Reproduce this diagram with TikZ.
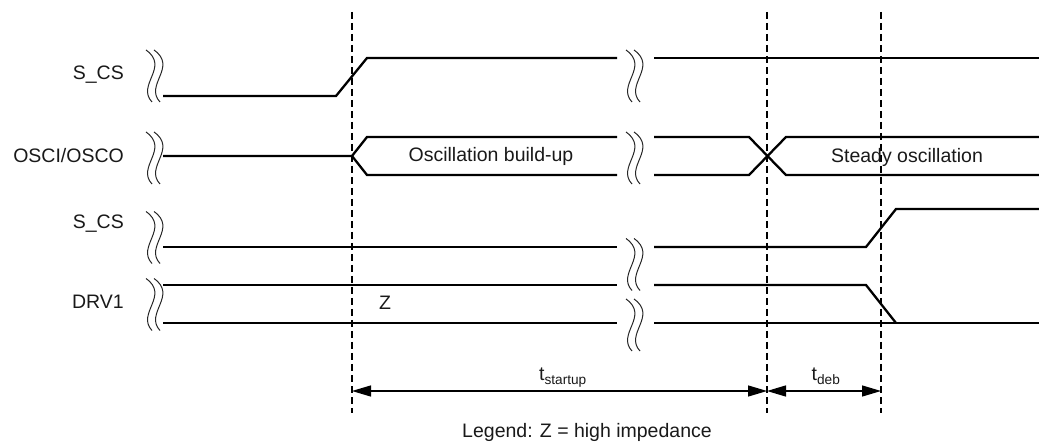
\documentclass[tikz,border=0pt]{standalone}
\usepackage{fontspec}
\setmainfont{Liberation Sans}
\usetikzlibrary{arrows.meta}
\tikzset{
  sig/.style={line width=2.3pt, black, line join=miter},
  guide/.style={line width=1.1pt, black, dash pattern=on 7pt off 4pt},
  squig/.style={line width=1pt, black!85},
  dim/.style={line width=1.3pt, black, {Triangle[length=19pt,width=11pt]}-{Triangle[length=19pt,width=11pt]}},
  lbl/.style={inner sep=0pt, text=black!90, font=\fontsize{19.5}{23}\selectfont},
  brk/.pic={
    \draw[squig] (-7,-26) .. controls (17,-9) and (-17,9) .. (-1,26);
    \draw[squig] (1,-26) .. controls (25,-9) and (-9,9) .. (7,26);
  }
}
\begin{document}
\begin{tikzpicture}[x=1pt,y=-1pt]
\useasboundingbox (0,0) rectangle (1039,446);
% guides
\coordinate (g1t) at (352,12); \coordinate (g1b) at (352,413);
\coordinate (g2t) at (767,12); \coordinate (g2b) at (767,413);
\coordinate (g3t) at (881,12); \coordinate (g3b) at (881,413);
\draw[guide] (g1t) -- (g1b);
\draw[guide] (g2t) -- (g2b);
\draw[guide] (g3t) -- (g3b);
% labels
\node[lbl, anchor=east] (l1) at (124,75) {S\_CS};
\node[lbl, anchor=east] (l2) at (124,156) {OSCI/OSCO};
\node[lbl, anchor=east] (l3) at (124,224) {S\_CS};
\node[lbl, anchor=east] (l4) at (124,302) {DRV1};
% row 1
\draw[sig] (163,96) -- (336,96) -- (367,58) -- (617,58);
\draw[sig] (654,58) -- (1039,58);
% row 2
\draw[sig] (163,156) -- (352,156) -- (367,137) -- (617,137);
\draw[sig] (352,156) -- (367,175) -- (617,175);
\draw[sig] (654,137) -- (749,137) -- (786,175) -- (1039,175);
\draw[sig] (654,175) -- (749,175) -- (786,137) -- (1039,137);
\node[lbl] (osc1) at (491,156) {Oscillation build-up};
\node[lbl] (osc2) at (907,157) {Steady oscillation};
% row 3
\draw[sig] (163,247) -- (617,247);
\draw[sig] (654,247) -- (866,247) -- (896,209) -- (1039,209);
% row 4
\draw[sig] (163,285) -- (617,285);
\draw[sig] (654,285) -- (866,285) -- (896,323);
\draw[sig] (163,323) -- (617,323);
\draw[sig] (654,323) -- (1039,323);
\node[lbl] (z) at (385,303) {Z};
% breaks
\pic at (153,76) {brk};
\pic at (153,158) {brk};
\pic at (153,237.5) {brk};
\pic at (153,304.5) {brk};
\pic at (633,76) {brk};
\pic at (633,158) {brk};
\pic at (633,264.5) {brk};
\pic at (633,325) {brk};
% dimensions
\coordinate (a1) at (352,391);
\coordinate (a2) at (767,391);
\coordinate (a3) at (881,391);
\draw[dim] (a1) -- (a2);
\draw[dim] (a2) -- (a3);
\node[lbl, anchor=base] (ts) at (563,381) {t\textsubscript{startup}};
\node[lbl, anchor=base] (td) at (826,381) {t\textsubscript{deb}};
\node[lbl] (leg) at (587,432) {Legend: Z = high impedance};
\end{tikzpicture}
\end{document}
